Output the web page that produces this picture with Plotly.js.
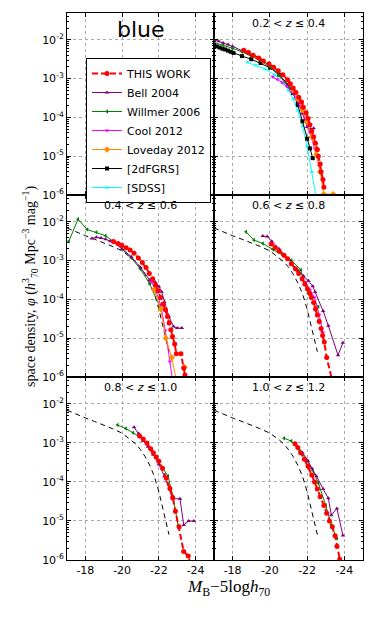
<!DOCTYPE html>
<html>
<head>
<meta charset="utf-8">
<script src="https://cdn.plot.ly/plotly-3.0.1.min.js"></script>
<style>
html, body { margin: 0; padding: 0; background: #fff; }
#plot { width: 374px; height: 623px; }
</style>
</head>
<body>
<div id="plot"></div>
<script>
// blue galaxies: luminosity function in six redshift bins

var zLabels = ['0.2', '0.4', '0.6', '0.8', '1.0', '1.2'];
var xTicks = [-18, -20, -22, -24];
var xTickText = ['-18', '-20', '-22', '-24'];
var yTicks = [1e-6, 1e-5, 1e-4, 1e-3, 1e-2];
var yTickText = ['10<sup>-6</sup>', '10<sup>-5</sup>', '10<sup>-4</sup>', '10<sup>-3</sup>', '10<sup>-2</sup>'];

// dashed reference curve (panels 0.4 < z <= 1.2)
var xRef = [-17.0, -17.5, -18.0, -18.5, -19.0, -19.5, -20.0, -20.5, -20.75, -21.0, -21.25, -21.5, -21.75, -22.0, -22.25, -22.55];
var yRef = [6.92e-3, 5.37e-3, 4.37e-3, 3.55e-3, 2.88e-3, 2.29e-3, 1.78e-3, 1.20e-3, 9.33e-4, 6.76e-4, 4.47e-4, 2.69e-4, 1.41e-4, 5.62e-5, 1.78e-5, 4.47e-6];

// 0.2 < z <= 0.4
var xWork1 = [-18.6, -18.85, -19.1, -19.4, -19.65, -19.95, -20.2, -20.45, -20.7, -20.95, -21.1, -21.25, -21.4, -21.55, -21.7, -21.8, -21.95, -22.05, -22.15, -22.25, -22.35, -22.45, -22.55, -22.6, -22.7, -22.75, -22.85, -22.9];
var yWork1 = [5.37e-3, 4.68e-3, 3.98e-3, 3.39e-3, 2.82e-3, 2.40e-3, 1.95e-3, 1.58e-3, 1.26e-3, 9.33e-4, 7.41e-4, 5.75e-4, 4.37e-4, 3.31e-4, 2.51e-4, 1.82e-4, 1.32e-4, 9.33e-5, 6.46e-5, 4.47e-5, 3.16e-5, 2.14e-5, 1.48e-5, 1.0e-5, 6.31e-6, 3.98e-6, 2.51e-6, 1.58e-6];
var xBell1 = [-17.0, -17.25, -17.5, -17.75, -18.0, -18.5, -19.0, -19.5, -20.0, -20.5, -21.0, -21.5, -21.75, -22.0, -22.2, -22.35];
var yBell1 = [1.0e-2, 9.12e-3, 8.32e-3, 7.59e-3, 6.76e-3, 5.25e-3, 4.07e-3, 3.16e-3, 2.14e-3, 1.26e-3, 6.31e-4, 2.51e-4, 1.26e-4, 5.62e-5, 5.01e-5, 5.25e-5];
var xWill1 = [-17.0, -17.5, -18.0, -18.5, -19.0, -19.5, -20.0, -20.5, -21.0];
var yWill1 = [8.51e-3, 7.24e-3, 6.03e-3, 4.90e-3, 3.80e-3, 2.88e-3, 2.0e-3, 1.20e-3, 6.03e-4];
var xCool1 = [-20.15, -20.4, -20.65, -20.9, -21.15, -21.4, -21.65, -21.9, -22.15, -22.4, -22.65];
var yCool1 = [1.12e-3, 9.55e-4, 7.94e-4, 6.31e-4, 4.68e-4, 3.16e-4, 1.91e-4, 1.0e-4, 4.17e-5, 1.58e-5, 5.62e-6];
var xLove1 = [-21.25, -21.5, -21.75, -22.0, -22.25, -22.5, -22.7, -22.9, -23.4];
var yLove1 = [5.01e-4, 3.02e-4, 1.58e-4, 7.59e-5, 3.16e-5, 1.12e-5, 3.98e-6, 1.05e-6, 1.05e-6];
var x2dF = [-17.0, -17.15, -17.3, -17.45, -17.6, -17.75, -17.9, -18.05, -18.5, -19.0, -19.5, -20.0, -20.5, -21.0, -21.25, -21.5, -21.75, -22.0, -22.15, -22.3];
var y2dF = [7.08e-3, 6.76e-3, 6.31e-3, 5.89e-3, 5.62e-3, 5.25e-3, 4.90e-3, 4.57e-3, 3.80e-3, 3.16e-3, 2.51e-3, 1.91e-3, 1.26e-3, 6.76e-4, 4.27e-4, 2.09e-4, 7.94e-5, 2.82e-5, 1.58e-5, 8.91e-6];
var xSdss = [-18.8, -19.25, -19.75, -20.25, -20.75, -21.0, -21.25, -21.5, -21.75, -22.0, -22.25, -22.5];
var ySdss = [2.63e-3, 2.19e-3, 1.74e-3, 1.26e-3, 7.59e-4, 5.01e-4, 3.02e-4, 1.51e-4, 6.03e-5, 1.78e-5, 3.98e-6, 7.94e-7];

// 0.4 < z <= 0.6
var xWork2 = [-19.53, -19.77, -19.98, -20.22, -20.43, -20.65, -20.88, -21.1, -21.3, -21.48, -21.66, -21.82, -21.96, -22.1, -22.23, -22.36, -22.47, -22.56, -22.65, -22.74, -22.86, -22.95, -23.2, -23.35, -23.42];
var yWork2 = [3.09e-3, 2.75e-3, 2.51e-3, 2.14e-3, 1.86e-3, 1.55e-3, 1.17e-3, 8.91e-4, 6.61e-4, 4.68e-4, 3.39e-4, 2.34e-4, 1.66e-4, 1.12e-4, 7.59e-5, 5.37e-5, 3.63e-5, 2.45e-5, 1.66e-5, 1.10e-5, 7.08e-6, 3.98e-6, 3.98e-6, 1.70e-6, 1.12e-6];
var xBell2 = [-18.35, -18.6, -18.85, -19.1, -19.35, -19.6, -20.0, -20.5, -21.0, -21.5, -21.8, -22.0, -22.15, -22.3, -22.55, -22.8, -23.0, -23.25];
var yBell2 = [3.72e-3, 3.98e-3, 3.80e-3, 3.55e-3, 3.16e-3, 2.82e-3, 2.0e-3, 1.26e-3, 6.61e-4, 3.16e-4, 2.82e-4, 2.14e-4, 1.58e-4, 8.51e-5, 3.55e-5, 2.0e-5, 1.82e-5, 1.82e-5];
var xWill2 = [-17.1, -17.6, -18.1, -18.6, -19.1, -19.5, -20.0, -20.5, -21.0, -21.5, -22.05];
var yWill2 = [3.16e-3, 1.17e-2, 6.31e-3, 5.37e-3, 4.37e-3, 3.16e-3, 2.0e-3, 1.17e-3, 6.03e-4, 2.51e-4, 6.61e-5];
var xCool2 = [-21.6, -21.85, -22.1, -22.35, -22.6, -22.75];
var yCool2 = [2.82e-4, 1.58e-4, 7.08e-5, 1.58e-5, 2.51e-6, 7.94e-7];
var xLove2 = [-21.75, -22.1, -22.38, -22.7, -23.0, -23.2, -23.4];
var yLove2 = [1.78e-4, 5.62e-5, 1.0e-5, 3.16e-6, 6.31e-7, null, 1.78e-6];

// 0.6 < z <= 0.8
var xWork3 = [-20.07, -20.29, -20.5, -20.76, -20.95, -21.15, -21.37, -21.55, -21.73, -21.88, -22.02, -22.15, -22.23, -22.35, -22.45, -22.55, -22.65, -22.75, -22.83, -22.92, -23.05, -23.35];
var yWork3 = [2.69e-3, 2.14e-3, 1.74e-3, 1.38e-3, 1.12e-3, 8.32e-4, 6.17e-4, 4.68e-4, 3.39e-4, 2.51e-4, 1.86e-4, 1.41e-4, 1.12e-4, 8.32e-5, 5.62e-5, 3.98e-5, 2.69e-5, 1.78e-5, 1.17e-5, 7.94e-6, 3.16e-6, 7.94e-7];
var xBell3 = [-19.62, -19.86, -20.1, -20.5, -21.0, -21.5, -21.8, -22.07, -22.3, -22.43, -22.86, -23.14, -23.66, -23.92];
var yBell3 = [4.27e-3, 4.17e-3, 3.16e-3, 2.0e-3, 1.05e-3, 5.62e-4, 3.98e-4, 3.02e-4, 2.19e-4, 1.55e-4, 5.01e-5, 2.09e-5, 3.63e-6, 7.59e-6];
var xWill3 = [-18.72, -19.14, -19.62, -20.16, -20.7, -21.15, -21.66, -22.05, -22.6];
var yWill3 = [5.50e-3, 3.39e-3, 2.75e-3, 1.95e-3, 1.38e-3, 1.02e-3, 5.75e-4, 1.45e-4, 6.46e-5];
var xCool3 = [-21.9, -22.15, -22.4, -22.65, -22.85];
var yCool3 = [2.82e-4, 1.78e-4, 1.12e-4, 3.98e-5, 1.41e-5];

// 0.8 < z <= 1.0
var xWork4 = [-20.95, -21.15, -21.35, -21.55, -21.7, -21.85, -22.0, -22.2, -22.4, -22.6, -22.75, -22.9, -23.1, -23.35, -23.6, -23.8];
var yWork4 = [1.51e-3, 1.26e-3, 1.0e-3, 7.08e-4, 5.62e-4, 4.37e-4, 3.39e-4, 2.24e-4, 1.26e-4, 6.76e-5, 3.98e-5, 1.78e-5, 7.08e-6, 1.66e-6, 1.26e-6, 6.31e-7];
var xBell4 = [-20.65, -20.9, -21.15, -21.4, -21.7, -22.0, -22.3, -22.75, -23.15, -23.35, -23.62, -23.9];
var yBell4 = [2.51e-3, 1.74e-3, 1.12e-3, 7.94e-4, 5.01e-4, 2.82e-4, 1.41e-4, 3.72e-5, 3.72e-5, 7.94e-6, 1.0e-5, 1.0e-5];
var xWill4 = [-19.75, -20.2, -20.6, -21.15, -21.6, -22.0, -22.5, -22.77, -23.05];
var yWill4 = [2.88e-3, 2.34e-3, 1.82e-3, 1.23e-3, 6.61e-4, 3.16e-4, 1.41e-4, 4.17e-5, 7.59e-6];

// 1.0 < z <= 1.2
var xWork5 = [-21.35, -21.5, -21.65, -21.85, -22.05, -22.25, -22.4, -22.55, -22.7, -22.9, -23.05, -23.2, -23.35, -23.5, -23.6, -23.75, -23.85];
var yWork5 = [9.55e-4, 7.59e-4, 5.62e-4, 3.80e-4, 2.51e-4, 1.51e-4, 1.0e-4, 6.61e-5, 4.17e-5, 2.51e-5, 1.58e-5, 1.0e-5, 7.08e-6, 4.17e-6, 2.24e-6, 1.05e-6, 6.31e-7];
var xBell5 = [-21.75, -22.05, -22.25, -22.5, -22.86, -23.14, -23.3, -23.6, -23.92];
var yBell5 = [5.62e-4, 3.47e-4, 2.24e-4, 1.41e-4, 6.61e-5, 3.80e-5, 1.41e-5, 2.09e-5, 4.27e-6];
var xWill5 = [-20.76, -21.15, -21.6, -22.0, -22.3, -22.6, -23.0, -23.3, -23.6];
var yWill5 = [1.32e-3, 1.12e-3, 6.31e-4, 3.55e-4, 2.0e-4, 9.33e-5, 2.51e-5, 7.94e-6, 3.55e-6];

var W = 374, H = 623;
var cols = [[67, 214], [214, 363]];
var rows = [[13, 195], [195, 377], [377, 560]];

var styles = {
    work: {name: 'THIS WORK', color: 'red', symbol: 'circle', size: 5, width: 2, dash: '6px,3px', rank: 1},
    bell: {name: 'Bell 2004', color: '#800080', symbol: 'triangle-up', size: 4, width: 1, dash: 'solid', rank: 2},
    will: {name: 'Willmer 2006', color: '#008000', symbol: 'triangle-left', size: 4, width: 1, dash: 'solid', rank: 3},
    cool: {name: 'Cool 2012', color: '#ff00ff', symbol: 'triangle-down', size: 4, width: 1, dash: 'solid', rank: 4},
    love: {name: 'Loveday 2012', color: '#ff8c00', symbol: 'diamond', size: 5, width: 1, dash: 'solid', rank: 5},
    twodf: {name: '[2dFGRS]', color: 'black', symbol: 'square', size: 4, width: 1, dash: 'solid', rank: 6},
    sdss: {name: '[SDSS]', color: '#00ffff', symbol: 'triangle-up', size: 4, width: 1, dash: 'solid', rank: 7}
};

function axId(p) { return p === 1 ? '' : String(p); }

var seen = {};
var data = [];

// keeps the empty top-left panel on the page (holds the legend)
data.push({x: [], y: [], type: 'scatter', mode: 'markers', xaxis: 'x', yaxis: 'y', showlegend: false, hoverinfo: 'skip'});

function addSeries(key, x, y, panel) {
    var s = styles[key];
    var first = !seen[key];
    seen[key] = true;
    data.push({
        x: x, y: y, type: 'scatter', mode: 'lines+markers',
        xaxis: 'x' + axId(panel), yaxis: 'y' + axId(panel),
        name: s.name, legendrank: s.rank, showlegend: first,
        line: {color: s.color, width: s.width, dash: s.dash},
        marker: {color: s.color, symbol: s.symbol, size: s.size},
        connectgaps: false
    });
}

function addRef(panel) {
    data.push({
        x: xRef, y: yRef, type: 'scatter', mode: 'lines',
        xaxis: 'x' + axId(panel), yaxis: 'y' + axId(panel), showlegend: false,
        line: {color: 'black', width: 1, dash: '5px,4px'}
    });
}

// panel 2: 0.2-0.4
addSeries('sdss', xSdss, ySdss, 2);
addSeries('twodf', x2dF, y2dF, 2);
addSeries('bell', xBell1, yBell1, 2);
addSeries('will', xWill1, yWill1, 2);
addSeries('cool', xCool1, yCool1, 2);
addSeries('love', xLove1, yLove1, 2);
addSeries('work', xWork1, yWork1, 2);
// panel 3: 0.4-0.6
addRef(3);
addSeries('will', xWill2, yWill2, 3);
addSeries('bell', xBell2, yBell2, 3);
addSeries('cool', xCool2, yCool2, 3);
addSeries('love', xLove2, yLove2, 3);
addSeries('work', xWork2, yWork2, 3);
// panel 4: 0.6-0.8
addRef(4);
addSeries('will', xWill3, yWill3, 4);
addSeries('bell', xBell3, yBell3, 4);
addSeries('cool', xCool3, yCool3, 4);
addSeries('work', xWork3, yWork3, 4);
// panel 5: 0.8-1.0
addRef(5);
addSeries('will', xWill4, yWill4, 5);
addSeries('bell', xBell4, yBell4, 5);
addSeries('work', xWork4, yWork4, 5);
// panel 6: 1.0-1.2
addRef(6);
addSeries('will', xWill5, yWill5, 6);
addSeries('bell', xBell5, yBell5, 6);
addSeries('work', xWork5, yWork5, 6);

var minorVals = [];
for (var d = -6; d <= -2; d++) {
    for (var k = 2; k <= 9; k++) minorVals.push(k * Math.pow(10, d));
}

var tickFont = {family: 'DejaVu Sans', size: 11, color: 'black'};
var layout = {
    width: W, height: H,
    margin: {l: 0, r: 0, t: 0, b: 0},
    paper_bgcolor: 'white', plot_bgcolor: 'white',
    showlegend: true,
    legend: {
        x: 86 / W, y: 1 - 58 / H, xanchor: 'left', yanchor: 'top',
        bgcolor: 'white', bordercolor: 'black', borderwidth: 1,
        font: {family: 'DejaVu Sans', size: 11, color: 'black'}
    },
    annotations: []
};

for (var p = 1; p <= 6; p++) {
    var c = (p - 1) % 2, r = Math.floor((p - 1) / 2);
    layout['xaxis' + axId(p)] = {
        domain: [cols[c][0] / W, cols[c][1] / W],
        anchor: 'y' + axId(p),
        range: [-17, -25],
        tickmode: 'array', tickvals: xTicks, ticktext: xTickText,
        showticklabels: r === 2,
        ticks: 'inside', ticklen: 4, tickcolor: 'black',
        showline: true, linecolor: 'black', linewidth: 1, mirror: 'allticks',
        showgrid: true, gridcolor: '#aaaaaa', griddash: 'dot', gridwidth: 1,
        zeroline: false, tickfont: tickFont
    };
    layout['yaxis' + axId(p)] = {
        domain: [1 - rows[r][1] / H, 1 - rows[r][0] / H],
        anchor: 'x' + axId(p),
        type: 'log', range: [-6, -1.31],
        tickmode: 'array', tickvals: yTicks, ticktext: yTickText,
        showticklabels: c === 0,
        ticks: 'inside', ticklen: 4, tickcolor: 'black',
        minor: {tickvals: minorVals, ticks: 'inside', ticklen: 2, tickcolor: 'black', showgrid: false},
        showline: true, linecolor: 'black', linewidth: 1, mirror: 'allticks',
        showgrid: true, gridcolor: '#aaaaaa', griddash: 'dot', gridwidth: 1,
        zeroline: false, tickfont: tickFont
    };
    if (p > 1) {
        layout.annotations.push({
            xref: 'paper', yref: 'paper',
            x: (cols[c][0] + cols[c][1]) / 2 / W, y: 1 - (rows[r][0] + 10) / H,
            text: zLabels[p - 2] + ' &lt; <i>z</i> ≤ ' + zLabels[p - 1],
            showarrow: false, xanchor: 'center', yanchor: 'middle',
            font: {family: 'DejaVu Sans', size: 11, color: 'black'}
        });
    }
}

layout.annotations.push({
    xref: 'paper', yref: 'paper', x: 141 / W, y: 1 - 30 / H,
    text: 'blue', showarrow: false, xanchor: 'center', yanchor: 'middle',
    font: {family: 'DejaVu Sans', size: 22, color: 'black'}
});
layout.annotations.push({
    xref: 'paper', yref: 'paper', x: 30 / W, y: 1 - 287 / H,
    text: 'space density, <i>φ</i> (<i>h</i><sup>3</sup><sub>70</sub> Mpc<sup>−3</sup> mag<sup>−1</sup>)',
    textangle: -90, showarrow: false, xanchor: 'center', yanchor: 'middle',
    font: {family: 'Liberation Serif', size: 14, color: 'black'}
});
layout.annotations.push({
    xref: 'paper', yref: 'paper', x: 228 / W, y: 1 - 588 / H,
    text: '<i>M</i><sub>B</sub>−5log<i>h</i><sub>70</sub>',
    showarrow: false, xanchor: 'center', yanchor: 'middle',
    font: {family: 'Liberation Serif', size: 17, color: 'black'}
});

Plotly.newPlot('plot', data, layout, {displayModeBar: false, staticPlot: true});
</script>
</body>
</html>
